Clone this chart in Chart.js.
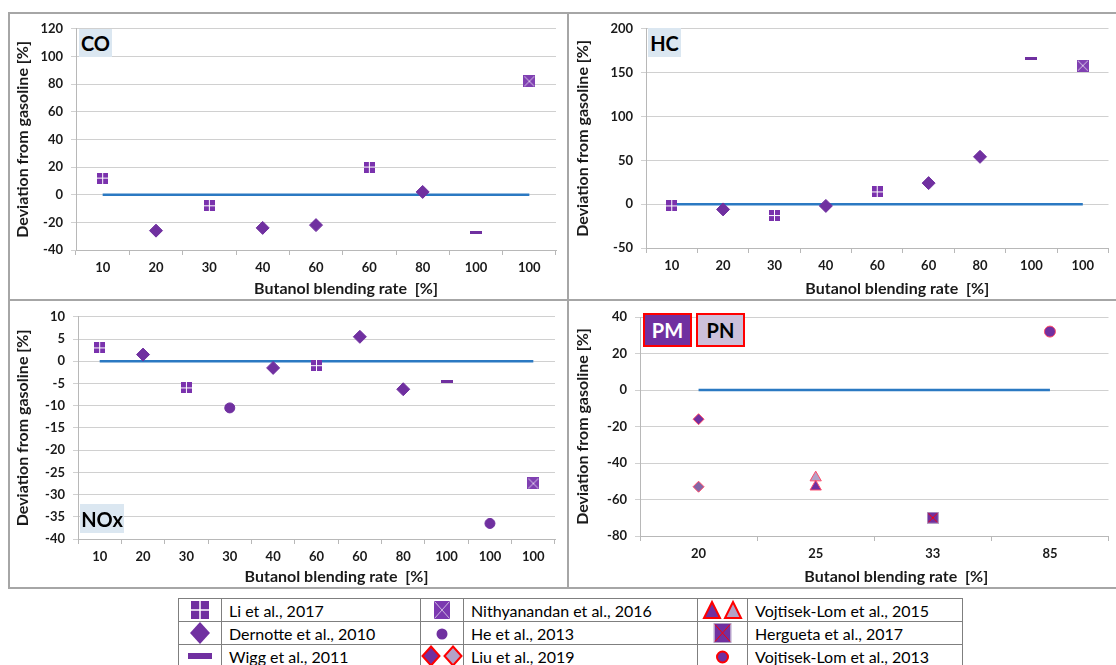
<!DOCTYPE html>
<html>
<head>
<meta charset="utf-8">
<script src="https://cdn.jsdelivr.net/npm/chart.js@4.4.1/dist/chart.umd.min.js"></script>
<style>
  body { margin: 0; background: #fff; font-family: Lato, sans-serif; }
  #page { position: relative; width: 1116px; height: 665px; overflow: hidden; background: #fff; }
  .frame { position: absolute; border: 2px solid #a6a6a6; box-sizing: border-box; }
  canvas.chart { position: absolute; }
  .tag { position: absolute; box-sizing: border-box; font: bold 20px Lato, sans-serif;
         display: flex; align-items: center; justify-content: center; }
  .tag.gas { background: #dbe7f1; color: #000; }
  .tag.pm { background: #7030a0; color: #fff; border: 2px solid #ff0000; }
  .tag.pn { background: #ccc0da; color: #000; border: 2px solid #ff0000; }
  #key { position: absolute; left: 178px; top: 598px; width: 784px; border-collapse: collapse;
         font: 16px Lato, sans-serif; color: #000; table-layout: fixed; }
  #key td { border: 1px solid #7f7f7f; height: 22px; padding: 0 0 0 7px; white-space: nowrap; overflow: hidden; }
  #key td.ic { padding: 0; }
  #key td.ic canvas { display: block; }
</style>
</head>
<body>
<div id="page">
  <div class="frame" style="left:8px;top:12px;width:1130px;height:577px;"></div>
  <div class="frame" style="left:567px;top:12px;width:2px;height:577px;border-width:0 0 0 2px;"></div>
  <div class="frame" style="left:8px;top:299px;width:1130px;height:2px;border-width:2px 0 0 0;"></div>

  <canvas class="chart" id="coChart" width="558" height="286" style="left:9px;top:13px;"></canvas>
  <canvas class="chart" id="hcChart" width="547" height="286" style="left:569px;top:13px;"></canvas>
  <canvas class="chart" id="noxChart" width="558" height="286" style="left:9px;top:301px;"></canvas>
  <canvas class="chart" id="pmChart" width="547" height="286" style="left:569px;top:301px;"></canvas>

  <div class="tag gas" style="left:79px;top:29px;width:33px;height:28px;">CO</div>
  <div class="tag gas" style="left:648px;top:28px;width:33px;height:29px;">HC</div>
  <div class="tag gas" style="left:80px;top:504px;width:44px;height:29px;">NOx</div>
  <div class="tag pm" style="left:643px;top:313px;width:49px;height:34px;">PM</div>
  <div class="tag pn" style="left:696px;top:313px;width:49px;height:34px;">PN</div>

  <table id="key">
    <colgroup>
      <col style="width:43px"><col style="width:199px">
      <col style="width:43px"><col style="width:234px">
      <col style="width:50px"><col style="width:215px">
    </colgroup>
    <tr>
      <td class="ic"><canvas data-k="li"></canvas></td><td>Li et al., 2017</td>
      <td class="ic"><canvas data-k="nith"></canvas></td><td>Nithyanandan et al., 2016</td>
      <td class="ic"><canvas data-k="vojt15"></canvas></td><td>Vojtisek-Lom et al., 2015</td>
    </tr>
    <tr>
      <td class="ic"><canvas data-k="dernotte"></canvas></td><td>Dernotte et al., 2010</td>
      <td class="ic"><canvas data-k="he"></canvas></td><td>He et al., 2013</td>
      <td class="ic"><canvas data-k="hergueta"></canvas></td><td>Hergueta et al., 2017</td>
    </tr>
    <tr>
      <td class="ic"><canvas data-k="wigg"></canvas></td><td>Wigg et al., 2011</td>
      <td class="ic"><canvas data-k="liu"></canvas></td><td>Liu et al., 2019</td>
      <td class="ic"><canvas data-k="vojt13"></canvas></td><td>Vojtisek-Lom et al., 2013</td>
    </tr>
  </table>
</div>

<script>
// CO panel
const coRates = ['10', '20', '30', '40', '60', '60', '80', '100', '100'];
const coLi = [12, null, -8, null, null, 20, null, null, null];
const coDernotte = [null, -26, null, -24, -22, null, 2, null, null];
const coWigg = [null, null, null, null, null, null, null, -27, null];
const coNith = [null, null, null, null, null, null, null, null, 82];

// HC panel
const hcRates = ['10', '20', '30', '40', '60', '60', '80', '100', '100'];
const hcLi = [-2, null, -13, null, 14, null, null, null, null];
const hcDernotte = [null, -6, null, -2, null, 24, 54, null, null];
const hcWigg = [null, null, null, null, null, null, null, 166, null];
const hcNith = [null, null, null, null, null, null, null, null, 158];

// NOx panel
const noxRates = ['10', '20', '30', '30', '40', '60', '60', '80', '100', '100', '100'];
const noxLi = [3, null, -6, null, null, -1, null, null, null, null, null];
const noxDernotte = [null, 1.5, null, null, -1.5, null, 5.5, -6.3, null, null, null];
const noxHe = [null, null, null, -10.5, null, null, null, null, null, -36.5, null];
const noxWigg = [null, null, null, null, null, null, null, null, -4.5, null, null];
const noxNith = [null, null, null, null, null, null, null, null, null, null, -27.5];

// PM / PN panel
const pmRates = ['20', '25', '33', '85'];
const pmLiu = [-16, null, null, null];
const pnLiu = [-53, null, null, null];
const pmVojt15 = [null, -53, null, null];
const pnVojt15 = [null, -48, null, null];
const pmHergueta = [null, null, -70, null];
const pmVojt13 = [null, null, null, 32];

const PURPLE = '#7030a0';
const LILAC = '#b3a2c7';
const RED = '#ff0000';
const PINK = '#ff4d6a';
const BLUE = '#2b79c2';
const GRID = '#d0d0d0';
const AXIS = '#b8b8b8';
const INK = '#1a1a1a';

Chart.defaults.font.family = 'Lato';

function marker(w, h, paint) {
  const c = document.createElement('canvas');
  c.width = w;
  c.height = h;
  paint(c.getContext('2d'), w, h);
  return c;
}

const liMark = marker(11, 11, (g, w, h) => {
  g.fillStyle = '#7a32ad';
  g.fillRect(0, 0, w, h);
  g.fillStyle = '#fff';
  g.fillRect(5, 0, 1, h);
  g.fillRect(0, 5, w, 1);
});
const nithMark = marker(12, 12, (g, w, h) => {
  g.fillStyle = '#8040b2';
  g.fillRect(0, 0, w, h);
  g.strokeStyle = '#d9c8e8';
  g.lineWidth = 1;
  g.beginPath();
  g.moveTo(1, 1); g.lineTo(w - 1, h - 1);
  g.moveTo(w - 1, 1); g.lineTo(1, h - 1);
  g.stroke();
});
const wiggMark = marker(12, 3, (g, w, h) => {
  g.fillStyle = PURPLE;
  g.fillRect(0, 0, w, h);
});
const herguetaMark = marker(12, 12, (g, w, h) => {
  g.fillStyle = PURPLE;
  g.fillRect(0, 0, w, h);
  g.strokeStyle = LILAC;
  g.strokeRect(0.5, 0.5, w - 1, h - 1);
  g.strokeStyle = RED;
  g.beginPath();
  g.moveTo(1.5, 1.5); g.lineTo(w - 1.5, h - 1.5);
  g.moveTo(w - 1.5, 1.5); g.lineTo(1.5, h - 1.5);
  g.stroke();
});

const diamond = { pointStyle: 'rectRot', pointRadius: 6.5, pointBackgroundColor: PURPLE, pointBorderColor: PURPLE };

// x-axis caption, sitting a little right of the plot centre like the source layout
const xCaption = {
  id: 'xCaption',
  afterDraw(chart, args, opts) {
    const { ctx, chartArea } = chart;
    ctx.save();
    ctx.font = 'bold 16px Lato';
    ctx.fillStyle = INK;
    ctx.textAlign = 'center';
    ctx.textBaseline = 'middle';
    ctx.fillText(opts.text, (chartArea.left + chartArea.right) / 2 + opts.shift, chart.height - 10);
    ctx.restore();
  }
};

function panelChart(id, labels, series, yRange, box) {
  const datasets = series.map(s => Object.assign({
    type: 'line', showLine: false, pointRadius: 6, pointBorderWidth: 1
  }, s));
  // reference line at zero, drawn underneath the markers
  datasets.push({
    type: 'line', data: labels.map(() => 0), borderColor: BLUE, borderWidth: 2.5,
    pointRadius: 0, fill: false
  });
  const tickFont = { family: 'Lato', size: 13, weight: 'bold' };
  const titleFont = { family: 'Lato', size: 16, weight: 'bold' };
  return new Chart(document.getElementById(id), {
    type: 'line',
    data: { labels: labels, datasets: datasets },
    plugins: [xCaption],
    options: {
      responsive: false,
      animation: false,
      events: [],
      layout: { padding: { top: box.top, right: box.right, left: 0, bottom: 0 } },
      plugins: {
        legend: { display: false },
        tooltip: { enabled: false },
        xCaption: { text: 'Butanol blending rate  [%]', shift: box.shift }
      },
      scales: {
        x: {
          offset: true,
          grid: { display: true, drawOnChartArea: false, offset: true, tickLength: 5, color: AXIS },
          border: { color: AXIS },
          ticks: { font: tickFont, color: INK, padding: 5, maxRotation: 0, autoSkip: false },
          afterFit: s => { s.height = box.xh; }
        },
        y: {
          min: yRange[0],
          max: yRange[1],
          ticks: { stepSize: yRange[2], font: tickFont, color: INK, padding: 8 },
          grid: { color: GRID, tickLength: 5 },
          border: { color: AXIS },
          title: {
            display: true, text: 'Deviation from gasoline [%]', font: titleFont, color: INK,
            padding: { top: 4, bottom: 0 }
          },
          afterFit: s => { s.width = box.yw; }
        }
      }
    }
  });
}

panelChart('coChart', coRates, [
  { data: coLi, pointStyle: liMark },
  Object.assign({ data: coDernotte }, diamond),
  { data: coWigg, pointStyle: wiggMark },
  { data: coNith, pointStyle: nithMark }
], [-40, 120, 20], { top: 14, right: 11, yw: 67, xh: 49, shift: 30 });

panelChart('hcChart', hcRates, [
  { data: hcLi, pointStyle: liMark },
  Object.assign({ data: hcDernotte }, diamond),
  { data: hcWigg, pointStyle: wiggMark },
  { data: hcNith, pointStyle: nithMark }
], [-50, 200, 50], { top: 10, right: 0, yw: 77, xh: 51, shift: 20 });

panelChart('noxChart', noxRates, [
  { data: noxLi, pointStyle: liMark },
  Object.assign({ data: noxDernotte }, diamond),
  { data: noxHe, pointStyle: 'circle', pointRadius: 5, pointBackgroundColor: PURPLE, pointBorderColor: PURPLE },
  { data: noxWigg, pointStyle: wiggMark },
  { data: noxNith, pointStyle: nithMark }
], [-40, 10, 5], { top: 13, right: 12, yw: 69, xh: 48, shift: 20 });

panelChart('pmChart', pmRates, [
  { data: pmLiu, pointStyle: 'rectRot', pointRadius: 5.5, pointBackgroundColor: PURPLE, pointBorderColor: PINK },
  { data: pnLiu, pointStyle: 'rectRot', pointRadius: 5.5, pointBackgroundColor: '#8466a6', pointBorderColor: PINK },
  { data: pmVojt15, pointStyle: 'triangle', pointRadius: 6.5, pointBackgroundColor: PURPLE, pointBorderColor: PINK },
  { data: pnVojt15, pointStyle: 'triangle', pointRadius: 6.5, pointBackgroundColor: LILAC, pointBorderColor: PINK },
  { data: pmHergueta, pointStyle: herguetaMark },
  { data: pmVojt13, pointStyle: 'circle', pointRadius: 5.5, pointBackgroundColor: PURPLE, pointBorderColor: PINK }
], [-80, 40, 20], { top: 16, right: 0, yw: 71, xh: 51, shift: 22 });

// key symbols
function diamondPath(g, x, y, hw, hh) {
  g.beginPath();
  g.moveTo(x, y - hh); g.lineTo(x + hw, y); g.lineTo(x, y + hh); g.lineTo(x - hw, y);
  g.closePath();
}
function trianglePath(g, x, y, hw, h) {
  g.beginPath();
  g.moveTo(x, y - h / 2); g.lineTo(x + hw, y + h / 2); g.lineTo(x - hw, y + h / 2);
  g.closePath();
}
function crossLines(g, x0, y0, w, h) {
  g.beginPath();
  g.moveTo(x0, y0); g.lineTo(x0 + w, y0 + h);
  g.moveTo(x0 + w, y0); g.lineTo(x0, y0 + h);
  g.stroke();
}

function paintIcon(cv, kind) {
  const g = cv.getContext('2d');
  const cx = cv.width / 2, cy = cv.height / 2;
  g.fillStyle = PURPLE;
  switch (kind) {
    case 'li':
      g.fillRect(cx - 9, cy - 9, 18, 18);
      g.fillStyle = '#fff';
      g.fillRect(cx - 0.75, cy - 9, 1.5, 18);
      g.fillRect(cx - 9, cy - 0.75, 18, 1.5);
      break;
    case 'dernotte':
      diamondPath(g, cx, cy, 10, 11);
      g.fill();
      break;
    case 'wigg':
      g.fillRect(cx - 12, cy - 3, 24, 6);
      break;
    case 'nith':
      g.fillStyle = '#7b38b0';
      g.fillRect(cx - 8, cy - 9, 16, 18);
      g.strokeStyle = '#cdb8e0';
      g.lineWidth = 1;
      crossLines(g, cx - 7.5, cy - 8.5, 15, 17);
      break;
    case 'he':
      g.beginPath(); g.arc(cx, cy + 1, 5.5, 0, Math.PI * 2); g.fill();
      break;
    case 'liu':
      g.strokeStyle = RED; g.lineWidth = 2;
      diamondPath(g, cx - 11, cy, 8.5, 9.5); g.fill(); g.stroke();
      g.fillStyle = LILAC;
      diamondPath(g, cx + 11, cy, 8.5, 9.5); g.fill(); g.stroke();
      break;
    case 'vojt15':
      g.strokeStyle = RED; g.lineWidth = 2;
      trianglePath(g, cx - 10.5, cy, 8, 16); g.fill(); g.stroke();
      g.fillStyle = LILAC;
      trianglePath(g, cx + 10.5, cy, 8, 16); g.fill(); g.stroke();
      break;
    case 'hergueta':
      g.fillRect(cx - 8, cy - 9, 16, 18);
      g.strokeStyle = LILAC; g.lineWidth = 1;
      g.strokeRect(cx - 8.5, cy - 9.5, 17, 19);
      g.strokeStyle = RED;
      crossLines(g, cx - 7.5, cy - 8.5, 15, 17);
      break;
    case 'vojt13':
      g.strokeStyle = RED; g.lineWidth = 2;
      g.beginPath(); g.arc(cx, cy + 1, 5.5, 0, Math.PI * 2); g.fill(); g.stroke();
      break;
  }
}

document.querySelectorAll('#key canvas').forEach(cv => {
  cv.width = cv.parentElement.clientWidth;
  cv.height = 22;
  paintIcon(cv, cv.dataset.k);
});
</script>
</body>
</html>
